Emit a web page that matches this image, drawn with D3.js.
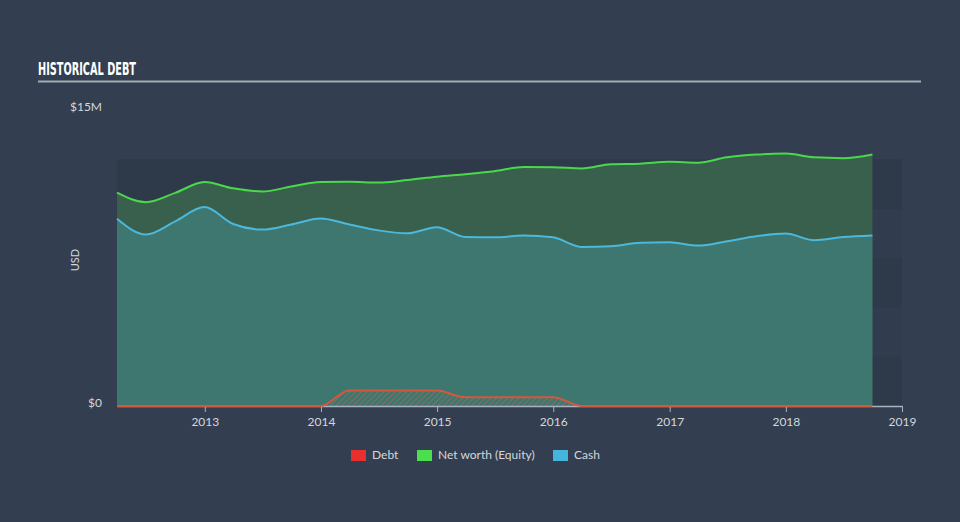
<!DOCTYPE html>
<html>
<head>
<meta charset="utf-8">
<script src="https://cdn.jsdelivr.net/npm/d3@7"></script>
<style>
  html, body { margin: 0; padding: 0; background: #333f50; }
  svg { display: block; }
</style>
</head>
<body>
<svg id="chart" width="960" height="522"></svg>
<script>
// ---- Data ----
const dates = ["2012-03-31","2012-06-30","2012-09-30","2012-12-31",
  "2013-03-31","2013-06-30","2013-09-30","2013-12-31",
  "2014-03-31","2014-06-30","2014-09-30","2014-12-31",
  "2015-03-31","2015-06-30","2015-09-30","2015-12-31",
  "2016-03-31","2016-06-30","2016-09-30","2016-12-31",
  "2017-03-31","2017-06-30","2017-09-30","2017-12-31",
  "2018-03-31","2018-06-30","2018-09-30"];
const equity = [10.81,10.33,10.80,11.35, 11.03,10.87,11.12,11.35,
  11.36,11.32,11.45,11.62, 11.75,11.90,12.11,12.10,
  12.04,12.25,12.28,12.38, 12.33,12.60,12.74,12.79,
  12.60,12.56,12.75];
const cash = [9.49,8.69,9.36,10.08, 9.22,8.94,9.20,9.50,
  9.20,8.90,8.75,9.06, 8.57,8.55,8.64,8.55,
  8.06,8.09,8.27,8.30, 8.13,8.35,8.60,8.74,
  8.40,8.56,8.64];
const debt = [0,0,0,0, 0,0,0,0,
  0.78,0.78,0.78,0.78, 0.44,0.44,0.44,0.44,
  0,0,0,0, 0,0,0,0, 0,0,0];
const yTickValues = [0, 15];
const yTickLabels = ["$0", "$15M"];
const xTickYears = [2013, 2014, 2015, 2016, 2017, 2018, 2019];
const legendLabels = ["Debt", "Net worth (Equity)", "Cash"];
const legendColors = ["#e8312f", "#4be04b", "#45b5de"];

// ---- Layout ----
const svg = d3.select("#chart");
const left = 117, right = 902, bottom = 406, top15 = 110;
const parse = d3.timeParse("%Y-%m-%d");
const data = dates.map((d, i) => ({ date: parse(d), equity: equity[i], cash: cash[i], debt: debt[i] }));

const x = d3.scaleTime()
  .domain([new Date(2012, 2, 31), new Date(2019, 0, 1)])
  .range([left, right]);
const y = d3.scaleLinear().domain([0, 15]).range([bottom, top15]);

// background bands
const bands = [0, 2.5, 5, 7.5, 10];
svg.append("g").selectAll("rect").data(bands).enter().append("rect")
  .attr("x", left).attr("width", right - left)
  .attr("y", d => y(d + 2.5)).attr("height", d => y(d) - y(d + 2.5))
  .attr("fill", (d, i) => i % 2 === 0 ? "#2e3a4a" : "#313d4e");

// title
svg.append("text").attr("x", 38).attr("y", 75)
  .attr("font-family", "'DejaVu Sans Condensed', 'DejaVu Sans', sans-serif")
  .attr("font-weight", "bold").attr("font-size", 18)
  .attr("textLength", 98).attr("lengthAdjust", "spacingAndGlyphs")
  .attr("fill", "#ffffff").text("HISTORICAL DEBT");
svg.append("line").attr("x1", 38).attr("x2", 921).attr("y1", 81.5).attr("y2", 81.5)
  .attr("stroke", "#a3abb4").attr("stroke-width", 2);

// pattern for debt
const defs = svg.append("defs");
const pat = defs.append("pattern").attr("id", "hatch").attr("patternUnits", "userSpaceOnUse")
  .attr("width", 4).attr("height", 4).attr("patternTransform", "rotate(45)");
pat.append("rect").attr("width", 4).attr("height", 4).attr("fill", "#3d7770");
pat.append("line").attr("x1", 0).attr("y1", 0).attr("x2", 0).attr("y2", 4)
  .attr("stroke", "#b86a4e").attr("stroke-width", 1.2);

const curve = d3.curveMonotoneX;
const areaEq = d3.area().x(d => x(d.date)).y0(y(0)).y1(d => y(d.equity)).curve(curve);
const areaCash = d3.area().x(d => x(d.date)).y0(y(0)).y1(d => y(d.cash)).curve(curve);
const areaDebt = d3.area().x(d => x(d.date)).y0(y(0)).y1(d => y(d.debt)).curve(curve);
const lineEq = d3.line().x(d => x(d.date)).y(d => y(d.equity)).curve(curve);
const lineCash = d3.line().x(d => x(d.date)).y(d => y(d.cash)).curve(curve);
const lineDebt = d3.line().x(d => x(d.date)).y(d => y(d.debt)).curve(curve);

svg.append("path").datum(data).attr("d", areaEq).attr("fill", "#395f4d");
svg.append("path").datum(data).attr("d", areaCash).attr("fill", "#3d7770");
svg.append("path").datum(data).attr("d", areaDebt).attr("fill", "url(#hatch)");

// axis
const xAxis = svg.append("g").attr("transform", `translate(0,${bottom})`)
  .call(d3.axisBottom(x)
    .tickValues(xTickYears.map(yr => new Date(yr, 0, 1)))
    .tickFormat(d3.timeFormat("%Y"))
    .tickSizeInner(6).tickSizeOuter(0));
xAxis.select(".domain").attr("stroke", "#a9b3c0").attr("stroke-width", 1.5);
xAxis.selectAll(".tick line").attr("stroke", "#a9b3c0");
xAxis.selectAll(".tick text").attr("fill", "#d3d7dc").attr("font-size", 12)
  .attr("font-family", "Lato, 'Open Sans', sans-serif").attr("dy", "0.9em");

svg.append("path").datum(data).attr("d", lineDebt).attr("fill", "none")
  .attr("stroke", "#d4583e").attr("stroke-width", 2);
svg.append("path").datum(data).attr("d", lineCash).attr("fill", "none")
  .attr("stroke", "#4bb8dc").attr("stroke-width", 2);
svg.append("path").datum(data).attr("d", lineEq).attr("fill", "none")
  .attr("stroke", "#4ad94a").attr("stroke-width", 2);

// y labels
svg.append("g").selectAll("text").data(yTickValues).enter().append("text")
  .attr("x", 102).attr("y", d => y(d) - 2)
  .attr("text-anchor", "end").attr("dominant-baseline", "middle")
  .attr("font-family", "Lato, 'Open Sans', sans-serif").attr("font-size", 12)
  .attr("fill", "#d3d7dc").text((d, i) => yTickLabels[i]);

svg.append("text").attr("transform", "translate(79,260) rotate(-90)")
  .attr("text-anchor", "middle").attr("font-family", "Lato, 'Open Sans', sans-serif")
  .attr("font-size", 11).attr("fill", "#d3d7dc").text("USD");

// legend
const legendX = [351, 417, 553];
const lg = svg.append("g").selectAll("g").data(legendLabels).enter().append("g")
  .attr("transform", (d, i) => `translate(${legendX[i]},450)`);
lg.append("rect").attr("width", 15).attr("height", 11).attr("fill", (d, i) => legendColors[i]);
lg.append("text").attr("x", 21).attr("y", 6).attr("dominant-baseline", "middle")
  .attr("font-family", "Lato, 'Open Sans', sans-serif").attr("font-size", 12)
  .attr("fill", "#d3d7dc").text(d => d);
</script>
</body>
</html>
